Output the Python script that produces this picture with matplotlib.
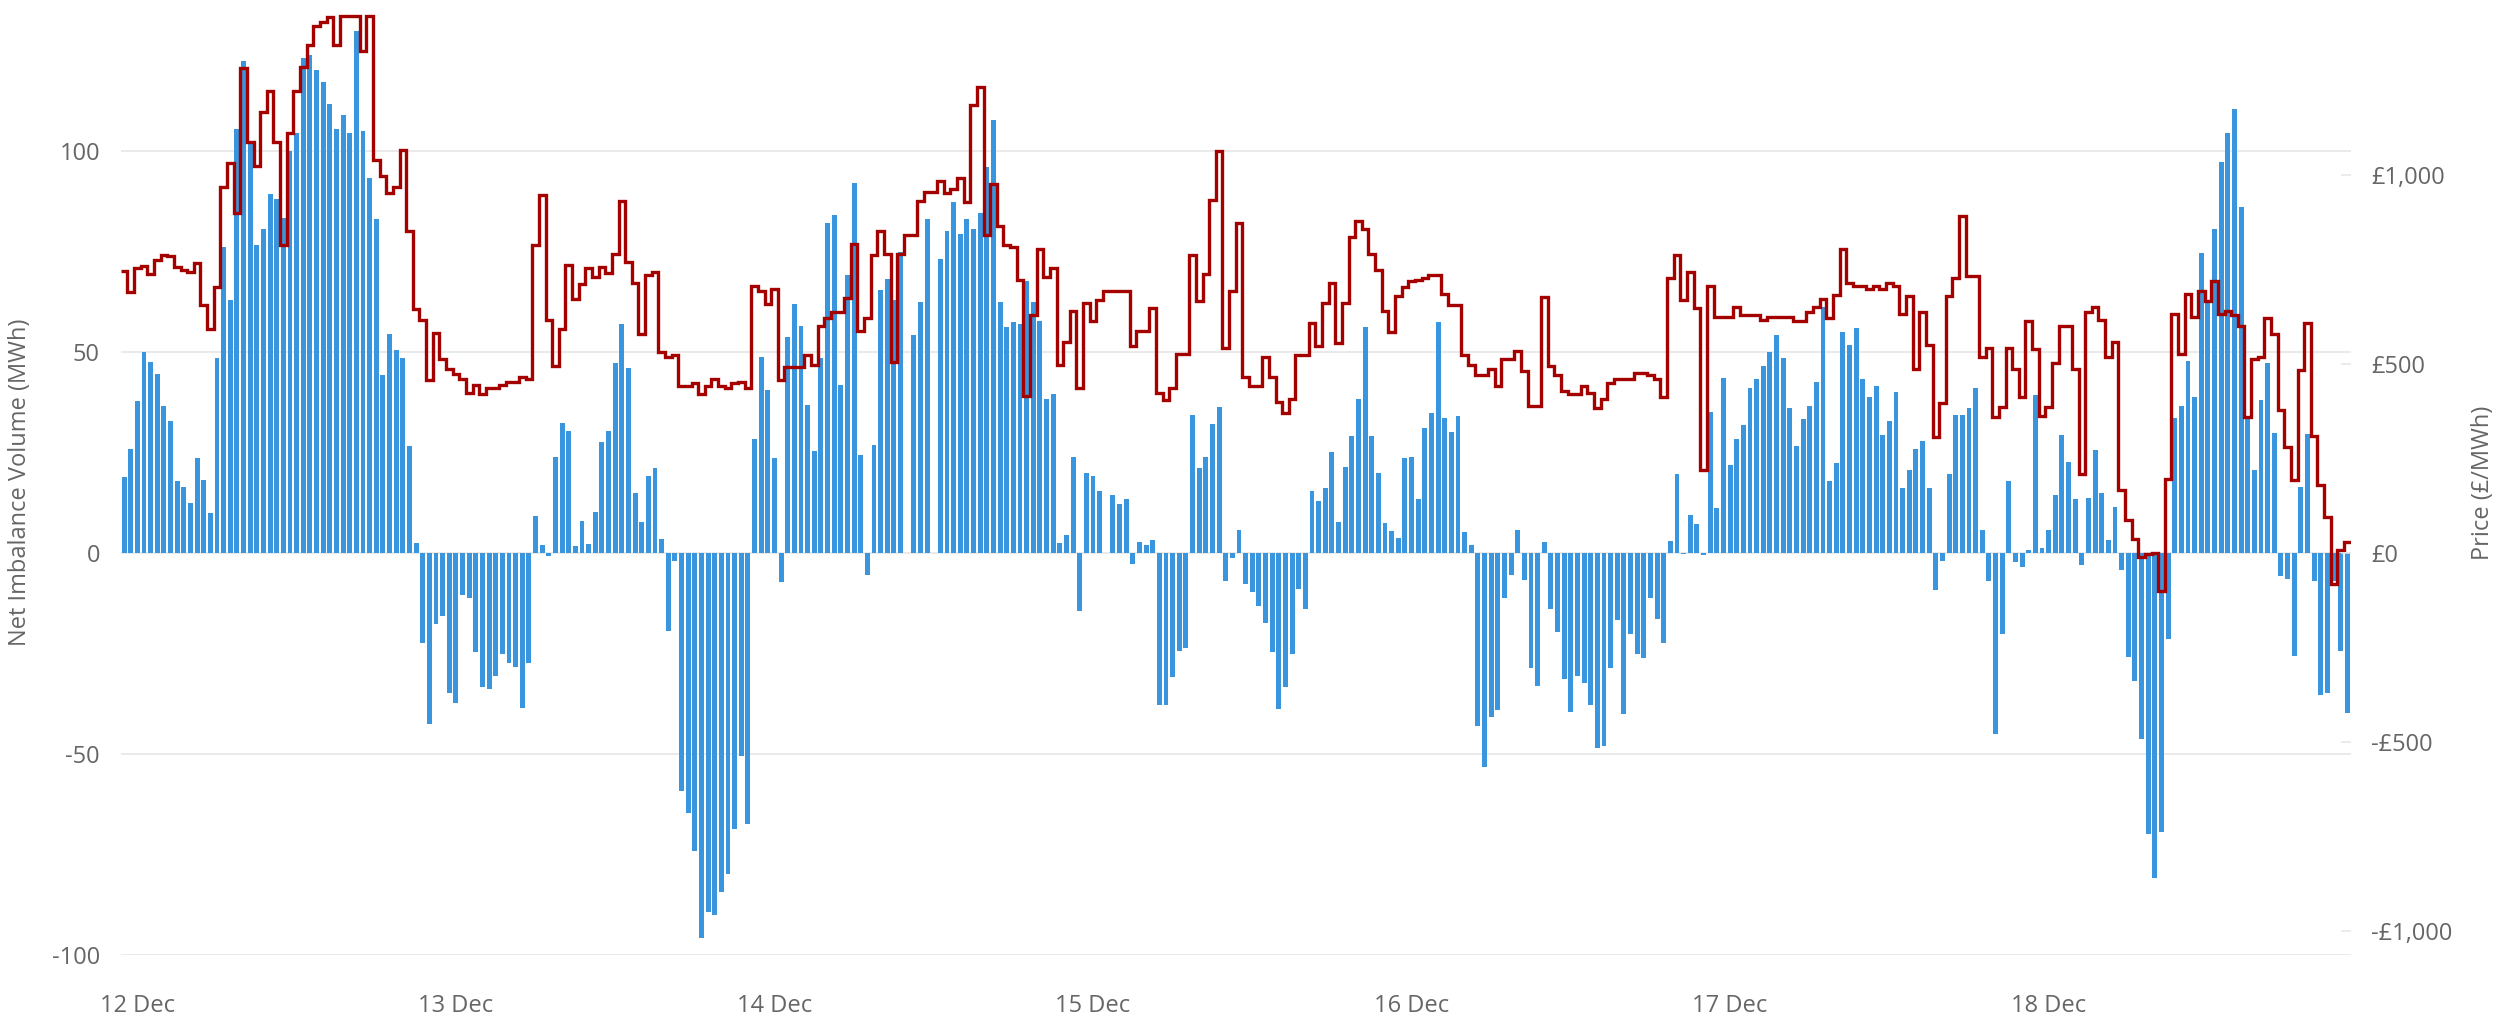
import numpy as np
import matplotlib.pyplot as plt

# net imbalance volume (MWh), 48 settlement periods per day
niv_12 = [19, 26, 38, 50, 47.6, 44.7, 36.7, 32.8, 17.9, 16.6, 12.6, 23.7, 18.3, 9.9, 48.7, 76.3,
          62.9, 105.7, 122.5, 102.2, 76.7, 80.6, 89.4, 88.1, 83.4, 100, 104.6, 123.3, 123.9, 120.2, 117.4, 111.7,
          105.7, 109.1, 104.6, 129.9, 105.1, 93.4, 83.2, 44.4, 54.5, 50.7, 48.7, 26.8, 2.5, -22.3, -42.4, -17.7]
niv_13 = [-15.7, -34.7, -37.3, -10.3, -11.2, -24.7, -33.3, -33.9, -30.5, -25.1, -27.3, -28.4, -38.5, -27.3, 9.2, 2,
          -0.8, 23.9, 32.4, 30.5, 1.8, 8, 2.3, 10.3, 27.7, 30.4, 47.3, 57, 46, 15.1, 7.7, 19.3,
          21.1, 3.5, -19.3, -2, -59.3, -64.7, -74, -95.8, -89.4, -90.1, -84.4, -79.8, -68.6, -50.4, -67.5, 28.4]
niv_14 = [48.8, 40.7, 23.7, -7.2, 53.9, 62.1, 56.5, 37, 25.4, 48.5, 82.1, 84.3, 41.9, 69.2, 92.1, 24.5,
          -5.4, 27, 65.5, 68.3, 62.9, 75, 0, 54.4, 62.4, 83.2, 0, 73.2, 80.3, 87.5, 79.4, 83.1,
          80.7, 84.6, 96.1, 107.7, 62.6, 56.4, 57.5, 57, 67.8, 62.4, 57.8, 38.5, 39.6, 2.5, 4.5, 23.9]
niv_15 = [-14.3, 19.9, 19.1, 15.4, 0, 14.6, 12.3, 13.4, -2.6, 2.8, 2, 3.2, -37.9, -37.9, -30.7, -24.3,
          -23.6, 34.5, 21.1, 23.9, 32.2, 36.4, -6.9, -1.1, 5.9, -7.7, -9.7, -13.1, -17.3, -24.7, -38.8, -33.4,
          -25, -8.9, -13.9, 15.4, 12.9, 16.2, 25.3, 7.7, 21.4, 29.1, 38.5, 56.2, 29.1, 20, 7.6, 5.5]
niv_16 = [3.9, 23.7, 24, 13.6, 31.1, 35, 57.5, 33.7, 30.2, 34.2, 5.2, 2, -43.1, -53.2, -40.8, -39,
          -11.1, -5.4, 5.9, -6.6, -28.5, -33.1, 2.9, -13.9, -19.6, -31.3, -39.6, -30.5, -32.4, -37.9, -48.5, -48.1,
          -28.5, -16.5, -40.1, -20, -25.1, -26.2, -11.2, -16.3, -22.3, 3.1, 19.7, -0.3, 9.4, 7.2, -0.5, 35.1]
niv_17 = [11.2, 43.6, 22, 28.5, 32, 41, 43.3, 46.5, 50.2, 54.2, 48.7, 36.2, 26.8, 33.4, 36.7, 42.5,
          61.3, 17.9, 22.5, 55, 51.9, 56.1, 43.3, 39, 41.6, 29.3, 32.8, 40.2, 16.2, 20.8, 26, 27.9,
          16.2, -9.2, -2, 19.7, 34.4, 34.4, 36.2, 41.1, 5.9, -6.9, -45, -20, 17.9, -2.3, -3.5, 0.8]
niv_18 = [39.4, 1.2, 5.7, 14.6, 29.3, 22.8, 13.6, -2.9, 13.7, 25.7, 15.1, 3.4, 11.6, -4.2, -25.9, -31.7,
          -46.2, -69.8, -80.9, -69.3, -21.4, 33.6, 36.7, 47.8, 39, 74.7, 62.7, 80.6, 97.4, 104.5, 110.6, 86.1,
          33.9, 20.8, 38.1, 47.3, 30, -5.7, -6.5, -25.6, 16.4, 29.6, -6.8, -35.3, -34.9, -7, -24.3, -39.8]

# imbalance price (GBP/MWh)
price_12 = [747, 691, 755, 760, 739, 776, 789, 786, 757, 750, 743, 768, 657, 592, 703, 969,
            1033, 899, 1283, 1087, 1025, 1168, 1222, 1087, 815, 1111, 1222, 1286, 1345, 1394, 1404, 1418,
            1345, 1422, 1422, 1422, 1328, 1422, 1041, 997, 953, 969, 1067, 853, 645, 616, 458, 583]
price_13 = [515, 487, 474, 462, 423, 446, 422, 438, 438, 446, 453, 453, 466, 462, 814, 948,
            616, 495, 592, 763, 673, 711, 755, 730, 757, 742, 792, 931, 770, 716, 580, 737,
            743, 531, 518, 523, 441, 441, 449, 422, 441, 461, 441, 438, 449, 454, 438, 706]
price_14 = [694, 658, 699, 458, 493, 493, 493, 523, 498, 601, 621, 637, 637, 675, 817, 588,
            621, 788, 853, 792, 507, 792, 841, 841, 931, 956, 956, 985, 953, 964, 992, 928,
            1185, 1234, 841, 977, 866, 814, 809, 722, 417, 629, 806, 730, 755, 498, 560, 641]
price_15 = [436, 662, 613, 670, 694, 694, 694, 694, 547, 588, 588, 649, 425, 404, 436, 526,
            526, 788, 667, 739, 935, 1065, 544, 694, 874, 466, 441, 441, 520, 466, 400, 371,
            408, 523, 523, 608, 547, 662, 716, 556, 662, 837, 879, 858, 792, 748, 641, 585]
price_16 = [681, 703, 719, 724, 727, 735, 735, 686, 657, 657, 523, 498, 471, 471, 487, 441,
            515, 515, 536, 482, 389, 389, 678, 495, 471, 430, 422, 422, 441, 425, 384, 408,
            449, 462, 461, 461, 477, 477, 471, 462, 412, 727, 789, 670, 743, 649, 221, 708]
price_17 = [624, 624, 624, 650, 629, 629, 629, 616, 626, 626, 626, 626, 613, 613, 637, 650,
            673, 621, 683, 806, 716, 708, 708, 699, 708, 698, 716, 708, 632, 681, 487, 637,
            551, 307, 397, 681, 727, 891, 732, 732, 520, 542, 359, 387, 542, 487, 413, 613]
price_18 = [539, 364, 387, 502, 601, 601, 487, 209, 637, 650, 616, 518, 559, 168, 87, 38,
            -11, -3, 0, -101, 196, 634, 526, 686, 626, 694, 667, 719, 634, 642, 629, 601,
            359, 515, 520, 621, 580, 379, 281, 193, 485, 608, 310, 180, 95, -82, 8, 29]

day_labels = ['12 Dec', '13 Dec', '14 Dec', '15 Dec', '16 Dec', '17 Dec', '18 Dec']
vol_ticks = [-100, -50, 0, 50, 100]
price_ticks = [-1000, -500, 0, 500, 1000]
price_ticklabels = ['-£1,000', '-£500', '£0', '£500', '£1,000']

niv = np.array(niv_12 + niv_13 + niv_14 + niv_15 + niv_16 + niv_17 + niv_18)
price = np.array(price_12 + price_13 + price_14 + price_15 + price_16 + price_17 + price_18)
x = np.arange(len(niv))

plt.rcParams['font.family'] = ['Open Sans', 'DejaVu Sans']
plt.rcParams['axes.unicode_minus'] = False
grey = '#666666'
W, H = 2496, 1024

fig = plt.figure(figsize=(W / 100, H / 100), dpi=100)
left, right, top, bottom = 120.8, 2350.6, 10, 955
ax = fig.add_axes([left / W, 1 - bottom / H, (right - left) / W, (bottom - top) / H])

ax.bar(x, niv, width=0.74, color='#3996de', zorder=2)
ax.set_xlim(-0.5, len(niv) - 0.5)
ax.set_ylim(-100, 135.2)
ax.set_yticks(vol_ticks)
ax.grid(axis='y', color='#e6e6e6', linewidth=1.2)
ax.set_axisbelow(True)
ax.set_xticks(np.arange(len(day_labels)) * 48 + 2)
ax.set_xticklabels(day_labels)
ax.tick_params(axis='y', length=0, pad=15, labelsize=17, labelcolor=grey)
ax.tick_params(axis='x', length=0, pad=28, labelsize=17, labelcolor=grey)
for s in ax.spines.values():
    s.set_visible(False)

ax2 = ax.twinx()
ax2.stairs(price, np.arange(len(price) + 1) - 0.5, baseline=None,
           color='#a50000', linewidth=2.4)
ax2.set_ylim(-1063, 1437)
ax2.set_yticks(price_ticks)
ax2.set_yticklabels(price_ticklabels)
ax2.tick_params(axis='y', direction='in', length=7.2, width=1.1, color='#e6e6e6',
                pad=15, labelsize=17, labelcolor=grey)
for s in ax2.spines.values():
    s.set_visible(False)

mid = 1 - (top + bottom) / 2 / H
fig.text(20 / W, mid, 'Net Imbalance Volume (MWh)', rotation=90, ha='center', va='center',
         fontsize=17, color=grey)
fig.text(2483 / W, mid, 'Price (£/MWh)', rotation=90, ha='center', va='center',
         fontsize=17, color=grey)

fig.savefig('out.png', dpi=100)
